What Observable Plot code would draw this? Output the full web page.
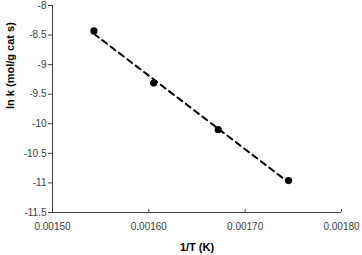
<!DOCTYPE html>
<html>
<head>
<meta charset="utf-8">
<script src="https://cdn.jsdelivr.net/npm/d3@7"></script>
<script src="https://cdn.jsdelivr.net/npm/@observablehq/plot@0.6"></script>
<style>
  html, body { margin: 0; padding: 0; background: #fff; }
  #chart { width: 362px; height: 255px; }
</style>
</head>
<body>
<div id="chart"></div>
<script>
const invT = [0.001543, 0.001605, 0.001672, 0.001745];
const lnK = [-8.43, -9.31, -10.10, -10.96];
const xTicks = [0.0015, 0.0016, 0.0017, 0.0018];
const yTicks = [-8, -8.5, -9, -9.5, -10, -10.5, -11, -11.5];

const data = invT.map((x, i) => ({x, y: lnK[i]}));
const font = "'Liberation Sans', Arial, sans-serif";

const chart = Plot.plot({
  width: 362,
  height: 255,
  marginLeft: 52,
  marginRight: 21,
  marginTop: 5,
  marginBottom: 43,
  style: {fontFamily: font, fontSize: "10px", background: "#fff", color: "#404040"},
  x: {domain: [0.0015, 0.0018]},
  y: {domain: [-11.5, -8]},
  marks: [
    Plot.ruleX([0.0015], {stroke: "#404040", strokeWidth: 1}),
    Plot.ruleY([-11.5], {stroke: "#404040", strokeWidth: 1}),
    Plot.axisY({ticks: yTicks, tickSize: 4, tickPadding: 2, tickFormat: d => String(d), fill: "#404040", stroke: "#404040", label: null}),
    Plot.axisX({ticks: xTicks, tickSize: -3, tickPadding: 13, tickFormat: d3.format(".5f"), fill: "#404040", stroke: "#404040", label: null}),
    Plot.linearRegressionY(data, {x: "x", y: "y", ci: 0, stroke: "black", strokeWidth: 2, strokeDasharray: "6,4.5"}),
    Plot.dot(data, {x: "x", y: "y", r: 3.6, fill: "black", stroke: "none"}),
    Plot.text(["1/T (K)"], {frameAnchor: "bottom", dy: 38, fontWeight: "bold", fontSize: 11, fill: "black"}),
    Plot.text(["ln k (mol/g cat s)"], {frameAnchor: "left", dx: -42, rotate: -90, fontWeight: "bold", fontSize: 11, fill: "black"})
  ]
});
document.getElementById("chart").appendChild(chart);
</script>
</body>
</html>
